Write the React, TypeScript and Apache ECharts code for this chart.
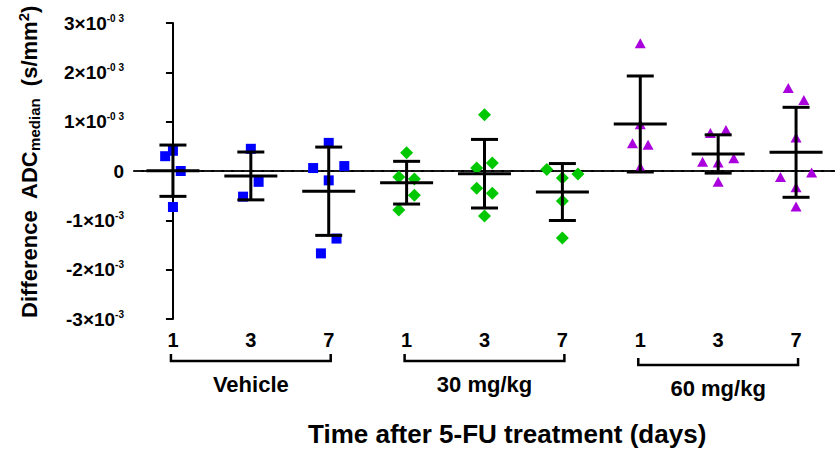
import React, { useEffect, useRef } from "react";
import * as echarts from "echarts";

// Values are in units of 1e-3 s/mm²
const xTickLabels = ["1", "3", "7", "1", "3", "7", "1", "3", "7"];
const groupNames = ["Vehicle", "30 mg/kg", "60 mg/kg"];
const yTickMain = ["-3×10", "-2×10", "-1×10", "0", "1×10", "2×10", "3×10"];
const yTickExp = ["-3", "-3", "-3", "", "-0 3", "-0 3", "-0 3"];

// individual animals, per day (1, 3, 7)
const vehicleValues = [
  [0.41, 0.30, 0.0, -0.73],
  [0.45, -0.22, -0.52],
  [0.57, 0.06, 0.10, -0.19, -1.37, -1.67],
];
const vehicleJitter = [
  [0, -0.1, 0.1, 0],
  [0, 0.1, -0.1],
  [0, -0.2, 0.2, 0, 0.1, -0.1],
];
const mg30Values = [
  [0.37, -0.12, -0.16, -0.49, -0.79],
  [1.14, 0.06, 0.16, -0.35, -0.45, -0.91],
  [0.03, -0.14, -0.06, -0.61, -1.36],
];
const mg30Jitter = [
  [0, -0.1, 0.1, 0.1, -0.1],
  [0, -0.1, 0.1, -0.1, 0.1, 0],
  [-0.2, 0, 0.2, 0, 0],
];
const mg60Values = [
  [2.59, 0.95, 0.56, 0.53, 0.08],
  [0.77, 0.83, 0.19, 0.17, 0.26, -0.22],
  [1.68, 1.44, 0.68, -0.12, -0.03, -0.33, -0.72],
];
const mg60Jitter = [
  [0, 0, -0.1, 0.1, 0],
  [-0.1, 0.1, -0.2, 0, 0.2, 0],
  [-0.1, 0.1, 0, -0.2, 0.2, 0, 0],
];
// mean and SD per cell (Vehicle 1,3,7; 30 mg/kg 1,3,7; 60 mg/kg 1,3,7)
const means = [0.006, -0.10, -0.41, -0.237, -0.055, -0.426, 0.953, 0.345, 0.379];
const sds = [0.52, 0.485, 0.895, 0.433, 0.695, 0.577, 0.973, 0.388, 0.912];

const FONT = "'Liberation Sans', Arial, sans-serif";

function toPoints(vals: number[][], jit: number[][], g: number) {
  const out: number[][] = [];
  vals.forEach((arr, d) => {
    arr.forEach((v, i) => out.push([g * 3 + d + jit[d][i], v]));
  });
  return out;
}

export default function App() {
  const ref = useRef<HTMLDivElement>(null);
  useEffect(() => {
    document.body.style.margin = "0";
    const chart = echarts.init(ref.current!, null, { renderer: "svg" });
    const errData = means.map((m, i) => [i, m, sds[i]]);
    const bracketData = groupNames.map((n, g) => [g * 3, -3, g * 3 + 2]);
    const lineStyle = { stroke: "#000", lineWidth: 3 };
    chart.setOption({
      animation: false,
      backgroundColor: "#fff",
      grid: { left: 134, top: 23, width: 708, height: 296 },
      xAxis: [
        {
          type: "category",
          data: xTickLabels,
          axisLine: { lineStyle: { color: "#000", width: 2 } },
          axisTick: { alignWithLabel: true, length: 8, lineStyle: { color: "#000", width: 2 } },
          axisLabel: { color: "#000", fontFamily: FONT, fontWeight: "bold", fontSize: 20, margin: 11 },
          splitLine: { show: false },
        },
        { type: "value", min: -0.5, max: 8.5, show: false },
      ],
      yAxis: {
        type: "value",
        min: -3,
        max: 3,
        interval: 1,
        axisLine: { show: true, lineStyle: { color: "#000", width: 2 } },
        axisTick: { show: true, length: 7, lineStyle: { color: "#000", width: 2 } },
        splitLine: { show: false },
        axisLabel: {
          margin: 10,
          formatter: (v: number) => {
            const i = Math.round(v) + 3;
            return yTickExp[i] ? `{m|${yTickMain[i]}}{s|${yTickExp[i]}}` : `{m|${yTickMain[i]}}`;
          },
          rich: {
            m: { fontFamily: FONT, fontWeight: "bold", fontSize: 19, color: "#000", lineHeight: 20 },
            s: { fontFamily: FONT, fontWeight: "bold", fontSize: 10, color: "#000", verticalAlign: "top", lineHeight: 12 },
          },
        },
      },
      series: [
        {
          type: "scatter",
          xAxisIndex: 1,
          symbol: "rect",
          symbolSize: 10,
          itemStyle: { color: "#0000FF", opacity: 1 },
          data: toPoints(vehicleValues, vehicleJitter, 0),
          z: 2,
          markLine: {
            silent: true,
            symbol: ["none", "none"],
            label: { show: false },
            lineStyle: { type: [7, 3], color: "#222", width: 1.5 },
            data: [{ yAxis: 0 }],
            z: 1,
          },
        },
        {
          type: "scatter",
          xAxisIndex: 1,
          symbol: "diamond",
          symbolSize: 13,
          itemStyle: { color: "#00C800", opacity: 1 },
          data: toPoints(mg30Values, mg30Jitter, 1),
          z: 2,
        },
        {
          type: "scatter",
          xAxisIndex: 1,
          symbol: "triangle",
          symbolSize: [11, 10],
          itemStyle: { color: "#AA00DD", opacity: 1 },
          data: toPoints(mg60Values, mg60Jitter, 2),
          z: 2,
        },
        {
          type: "custom",
          xAxisIndex: 1,
          z: 3,
          encode: { x: 0, y: 1 },
          data: errData,
          renderItem: (params: any, api: any) => {
            const x = api.value(0), m = api.value(1), s = api.value(2);
            const c = api.coord([x, m]);
            const t = api.coord([x, m + s]);
            const b = api.coord([x, m - s]);
            return {
              type: "group",
              children: [
                { type: "line", shape: { x1: c[0], y1: t[1], x2: c[0], y2: b[1] }, style: lineStyle },
                { type: "line", shape: { x1: c[0] - 13.5, y1: t[1], x2: c[0] + 13.5, y2: t[1] }, style: lineStyle },
                { type: "line", shape: { x1: c[0] - 13.5, y1: b[1], x2: c[0] + 13.5, y2: b[1] }, style: lineStyle },
                { type: "line", shape: { x1: c[0] - 26.5, y1: c[1], x2: c[0] + 26.5, y2: c[1] }, style: lineStyle },
              ],
            };
          },
        },
        {
          type: "custom",
          xAxisIndex: 1,
          z: 3,
          clip: false,
          silent: true,
          encode: { x: [0, 2], y: 1 },
          data: bracketData,
          renderItem: (params: any, api: any) => {
            const p1 = api.coord([api.value(0), api.value(1)]);
            const p2 = api.coord([api.value(2), api.value(1)]);
            const dy = params.dataIndex === 2 ? 4 : 0;
            const y1 = p1[1] + 35 + dy;
            const y2 = p1[1] + 42 + dy;
            const xa = p1[0] - 2;
            const xb = p2[0] + 2;
            return {
              type: "group",
              children: [
                {
                  type: "polyline",
                  shape: { points: [[xa, y1], [xa, y2], [xb, y2], [xb, y1]] },
                  style: { stroke: "#000", lineWidth: 2.5, fill: null },
                },
                {
                  type: "text",
                  x: (xa + xb) / 2,
                  y: p1[1] + 65 + dy,
                  style: {
                    text: groupNames[params.dataIndex],
                    fontFamily: FONT,
                    fontWeight: "bold",
                    fontSize: 22,
                    fill: "#000",
                    align: "center",
                    verticalAlign: "middle",
                  },
                },
              ],
            };
          },
        },
      ],
      graphic: [
        {
          type: "text",
          x: 308,
          y: 434,
          style: {
            text: "Time after 5-FU treatment (days)",
            fontFamily: FONT,
            fontWeight: "bold",
            fontSize: 26,
            fill: "#000",
            align: "left",
            verticalAlign: "middle",
          },
        },
        {
          type: "text",
          x: 29,
          y: 162,
          rotation: Math.PI / 2,
          style: {
            text: "{a|Difference  ADC}{b|median}{a|  (s/mm}{c|2}{a|)}",
            align: "center",
            verticalAlign: "middle",
            rich: {
              a: { fontFamily: FONT, fontWeight: "bold", fontSize: 22, fill: "#000", lineHeight: 26 },
              b: { fontFamily: FONT, fontWeight: "bold", fontSize: 15, fill: "#000", verticalAlign: "bottom", lineHeight: 17 },
              c: { fontFamily: FONT, fontWeight: "bold", fontSize: 15, fill: "#000", verticalAlign: "top", lineHeight: 17 },
            },
          },
        },
      ],
    });
    return () => chart.dispose();
  }, []);
  return <div ref={ref} style={{ width: 835, height: 451 }} />;
}
